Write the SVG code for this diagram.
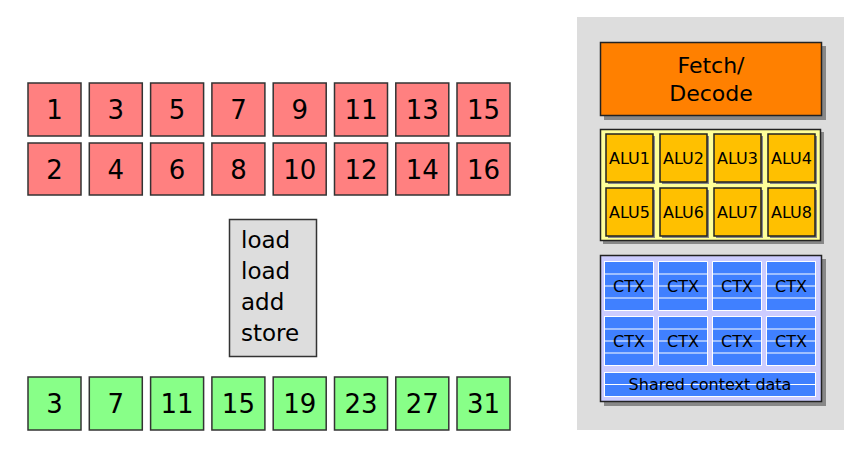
<svg xmlns="http://www.w3.org/2000/svg" width="861" height="451" viewBox="0 0 861 451">
<style>
text{font-family:"DejaVu Sans","Liberation Sans",sans-serif;fill:#000}
.num{font-size:26px;text-anchor:middle}
.red{fill:#ff8080;stroke:#333;stroke-width:1.5}
.grn{fill:#88ff88;stroke:#333;stroke-width:1.5}
.sh{fill:#888}
.alu{fill:#ffc000;stroke:#222;stroke-width:1.5}
.ctx{fill:#4080ff;stroke:#fff;stroke-width:1}
.stripe{stroke:#fff;stroke-width:1.2}
.alut{font-size:16px;text-anchor:middle}
.ctxt{font-size:16px;text-anchor:middle}
</style>
<rect width="861" height="451" fill="#fff"/>
<g id="inputs">
<g id="in1"><rect class="red" x="28" y="83" width="53" height="53"/><text class="num" x="54.5" y="119">1</text></g>
<g id="in3"><rect class="red" x="89.3" y="83" width="53" height="53"/><text class="num" x="115.8" y="119">3</text></g>
<g id="in5"><rect class="red" x="150.6" y="83" width="53" height="53"/><text class="num" x="177.1" y="119">5</text></g>
<g id="in7"><rect class="red" x="211.9" y="83" width="53" height="53"/><text class="num" x="238.4" y="119">7</text></g>
<g id="in9"><rect class="red" x="273.2" y="83" width="53" height="53"/><text class="num" x="299.7" y="119">9</text></g>
<g id="in11"><rect class="red" x="334.5" y="83" width="53" height="53"/><text class="num" x="361" y="119">11</text></g>
<g id="in13"><rect class="red" x="395.8" y="83" width="53" height="53"/><text class="num" x="422.3" y="119">13</text></g>
<g id="in15"><rect class="red" x="457" y="83" width="53" height="53"/><text class="num" x="483.5" y="119">15</text></g>
<g id="in2"><rect class="red" x="28" y="143" width="53" height="52"/><text class="num" x="54.5" y="178.5">2</text></g>
<g id="in4"><rect class="red" x="89.3" y="143" width="53" height="52"/><text class="num" x="115.8" y="178.5">4</text></g>
<g id="in6"><rect class="red" x="150.6" y="143" width="53" height="52"/><text class="num" x="177.1" y="178.5">6</text></g>
<g id="in8"><rect class="red" x="211.9" y="143" width="53" height="52"/><text class="num" x="238.4" y="178.5">8</text></g>
<g id="in10"><rect class="red" x="273.2" y="143" width="53" height="52"/><text class="num" x="299.7" y="178.5">10</text></g>
<g id="in12"><rect class="red" x="334.5" y="143" width="53" height="52"/><text class="num" x="361" y="178.5">12</text></g>
<g id="in14"><rect class="red" x="395.8" y="143" width="53" height="52"/><text class="num" x="422.3" y="178.5">14</text></g>
<g id="in16"><rect class="red" x="457" y="143" width="53" height="52"/><text class="num" x="483.5" y="178.5">16</text></g>
</g>
<g id="program">
<rect x="229.5" y="219.5" width="87" height="137" fill="#dddddd" stroke="#333" stroke-width="1.5"/>
<text x="241" y="248" style="font-size:23px">load</text>
<text x="241" y="279" style="font-size:23px">load</text>
<text x="241" y="310" style="font-size:23px">add</text>
<text x="241" y="341" style="font-size:23px">store</text>
</g>
<g id="outputs">
<g id="out3"><rect class="grn" x="28" y="377" width="53" height="53"/><text class="num" x="54.5" y="413">3</text></g>
<g id="out7"><rect class="grn" x="89.3" y="377" width="53" height="53"/><text class="num" x="115.8" y="413">7</text></g>
<g id="out11"><rect class="grn" x="150.6" y="377" width="53" height="53"/><text class="num" x="177.1" y="413">11</text></g>
<g id="out15"><rect class="grn" x="211.9" y="377" width="53" height="53"/><text class="num" x="238.4" y="413">15</text></g>
<g id="out19"><rect class="grn" x="273.2" y="377" width="53" height="53"/><text class="num" x="299.7" y="413">19</text></g>
<g id="out23"><rect class="grn" x="334.5" y="377" width="53" height="53"/><text class="num" x="361" y="413">23</text></g>
<g id="out27"><rect class="grn" x="395.8" y="377" width="53" height="53"/><text class="num" x="422.3" y="413">27</text></g>
<g id="out31"><rect class="grn" x="457" y="377" width="53" height="53"/><text class="num" x="483.5" y="413">31</text></g>
</g>
<g id="core">
<rect x="577" y="17" width="267" height="413" fill="#dddddd"/>
<g id="fetch">
<rect class="sh" x="604" y="46" width="222" height="74"/>
<rect x="600.5" y="42.5" width="221" height="73" fill="#ff8000" stroke="#222" stroke-width="1.5"/>
<text x="711" y="73" style="font-size:22px;text-anchor:middle">Fetch/</text>
<text x="711" y="101" style="font-size:22px;text-anchor:middle">Decode</text>
</g>
<g id="alus">
<rect class="sh" x="603" y="132" width="221" height="112"/>
<rect x="600.5" y="129.5" width="220" height="111" fill="#ffff99" stroke="#222" stroke-width="1.5"/>
<g fill="#888">
<rect x="608" y="136" width="47" height="48"/><rect x="662" y="136" width="47" height="48"/><rect x="716" y="136" width="47" height="48"/><rect x="770" y="136" width="47" height="48"/>
<rect x="608" y="190" width="47" height="48"/><rect x="662" y="190" width="47" height="48"/><rect x="716" y="190" width="47" height="48"/><rect x="770" y="190" width="47" height="48"/>
</g>
<g id="alu1"><rect class="alu" x="606" y="134" width="47" height="48"/><text class="alut" x="629.5" y="164">ALU1</text></g>
<g id="alu2"><rect class="alu" x="660" y="134" width="47" height="48"/><text class="alut" x="683.5" y="164">ALU2</text></g>
<g id="alu3"><rect class="alu" x="714" y="134" width="47" height="48"/><text class="alut" x="737.5" y="164">ALU3</text></g>
<g id="alu4"><rect class="alu" x="768" y="134" width="47" height="48"/><text class="alut" x="791.5" y="164">ALU4</text></g>
<g id="alu5"><rect class="alu" x="606" y="188" width="47" height="48"/><text class="alut" x="629.5" y="218">ALU5</text></g>
<g id="alu6"><rect class="alu" x="660" y="188" width="47" height="48"/><text class="alut" x="683.5" y="218">ALU6</text></g>
<g id="alu7"><rect class="alu" x="714" y="188" width="47" height="48"/><text class="alut" x="737.5" y="218">ALU7</text></g>
<g id="alu8"><rect class="alu" x="768" y="188" width="47" height="48"/><text class="alut" x="791.5" y="218">ALU8</text></g>
</g>
<g id="contexts">
<rect class="sh" x="604" y="259" width="222" height="147"/>
<rect x="600.5" y="255.5" width="221" height="146" fill="#ccccff" stroke="#222" stroke-width="1.5"/>
<g id="ctx-cells">
<rect class="ctx" x="604.5" y="261.5" width="49" height="49"/><rect class="ctx" x="658.5" y="261.5" width="49" height="49"/><rect class="ctx" x="712.5" y="261.5" width="49" height="49"/><rect class="ctx" x="766.5" y="261.5" width="49" height="49"/>
<rect class="ctx" x="604.5" y="316.5" width="49" height="49"/><rect class="ctx" x="658.5" y="316.5" width="49" height="49"/><rect class="ctx" x="712.5" y="316.5" width="49" height="49"/><rect class="ctx" x="766.5" y="316.5" width="49" height="49"/>
<rect class="ctx" x="604.5" y="372.5" width="211" height="24"/>
</g>
<g class="stripe">
<path d="M604.5 274H815.5M604.5 286H815.5M604.5 298H815.5M604.5 329H815.5M604.5 341H815.5M604.5 353H815.5M604.5 384.5H815.5"/>
</g>
<g fill="#ccccff">
<rect x="653.5" y="261" width="5" height="105"/><rect x="707.5" y="261" width="5" height="105"/><rect x="761.5" y="261" width="5" height="105"/>
</g>
<g stroke="#fff" stroke-width="1" fill="none">
<path d="M653.5 261.5V310.5M658.5 261.5V310.5M707.5 261.5V310.5M712.5 261.5V310.5M761.5 261.5V310.5M766.5 261.5V310.5"/>
<path d="M653.5 316.5V365.5M658.5 316.5V365.5M707.5 316.5V365.5M712.5 316.5V365.5M761.5 316.5V365.5M766.5 316.5V365.5"/>
</g>
<text class="ctxt" x="629" y="292">CTX</text>
<text class="ctxt" x="683" y="292">CTX</text>
<text class="ctxt" x="737" y="292">CTX</text>
<text class="ctxt" x="791" y="292">CTX</text>
<text class="ctxt" x="629" y="347">CTX</text>
<text class="ctxt" x="683" y="347">CTX</text>
<text class="ctxt" x="737" y="347">CTX</text>
<text class="ctxt" x="791" y="347">CTX</text>
<text class="ctxt" x="710" y="390">Shared context data</text>
</g>
</g>
</svg>
